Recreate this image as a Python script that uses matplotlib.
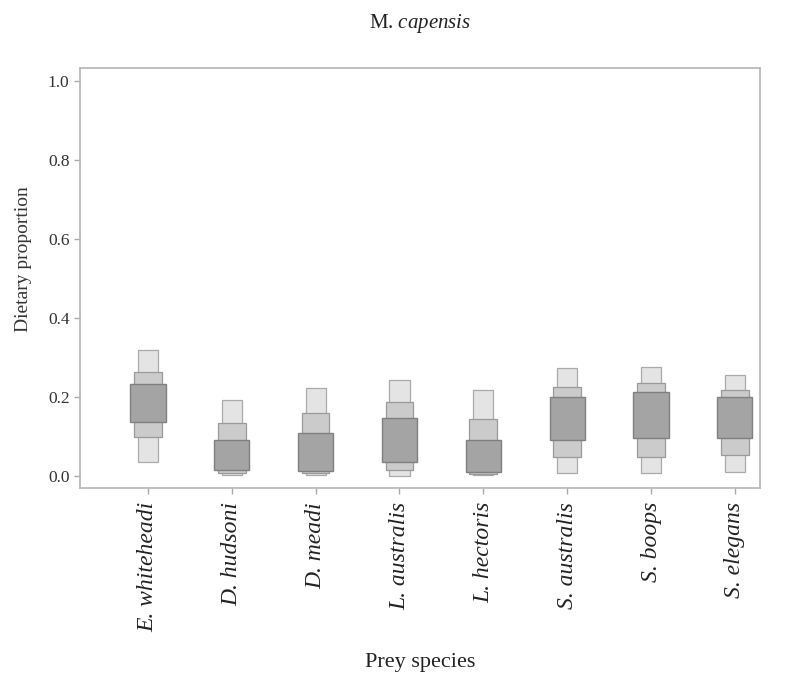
import matplotlib
matplotlib.use("Agg")
import matplotlib.pyplot as plt
import numpy as np

species = ["E. whiteheadi", "D. hudsoni", "D. meadi", "L. australis",
           "L. hectoris", "S. australis", "S. boops", "S. elegans"]

# credible intervals (low, high)
ci95_low  = [0.035, 0.002, 0.003, 0.000, 0.002, 0.008, 0.008, 0.010]
ci95_high = [0.319, 0.192, 0.223, 0.243, 0.218, 0.273, 0.276, 0.256]
ci75_low  = [0.099, 0.007, 0.007, 0.015, 0.005, 0.048, 0.048, 0.053]
ci75_high = [0.263, 0.134, 0.160, 0.187, 0.144, 0.225, 0.235, 0.218]
ci50_low  = [0.137, 0.015, 0.012, 0.035, 0.010, 0.091, 0.096, 0.096]
ci50_high = [0.233, 0.091, 0.109, 0.147, 0.091, 0.200, 0.213, 0.200]

yticks = [0.0, 0.2, 0.4, 0.6, 0.8, 1.0]
ytick_labels = ["0.0", "0.2", "0.4", "0.6", "0.8", "1.0"]

plt.rcParams['font.family'] = ['Liberation Serif', 'DejaVu Serif']
plt.rcParams['mathtext.fontset'] = 'custom'
plt.rcParams['mathtext.it'] = 'Liberation Serif:italic'
plt.rcParams['mathtext.rm'] = 'Liberation Serif'

fig = plt.figure(figsize=(7.95, 6.79), dpi=100)
ax = fig.add_axes([0.1006, 0.2813, 0.8554, 0.6186])

x = np.arange(len(species))
lo95, hi95 = np.array(ci95_low), np.array(ci95_high)
lo75, hi75 = np.array(ci75_low), np.array(ci75_high)
lo50, hi50 = np.array(ci50_low), np.array(ci50_high)

ax.bar(x, hi95 - lo95, bottom=lo95, width=0.24, color='#e4e4e4',
       edgecolor='#aaaaaa', linewidth=0.9, zorder=2)
ax.bar(x, hi75 - lo75, bottom=lo75, width=0.33, color='#cbcbcb',
       edgecolor='#9a9a9a', linewidth=0.9, zorder=3)
ax.bar(x, hi50 - lo50, bottom=lo50, width=0.42, color='#a4a4a4',
       edgecolor='#808080', linewidth=1.0, zorder=4)

ax.set_xlim(-0.81, 7.3)
ax.set_ylim(-0.03, 1.033)
ax.set_yticks(yticks)
ax.set_yticklabels(ytick_labels, fontsize=12.5, color='#333333')
ax.set_xticks(x)
ax.set_xticklabels(species, rotation=90, fontsize=17, fontstyle='italic',
                   color='#222222')

for sp in ax.spines.values():
    sp.set_color('#b5b5b5')
    sp.set_linewidth(1.2)
ax.tick_params(axis='both', colors='#aaaaaa', length=4, width=1)
ax.tick_params(axis='x', pad=6)
for lab in ax.get_yticklabels():
    lab.set_color('#333333')
for lab in ax.get_xticklabels():
    lab.set_color('#222222')

ax.set_ylabel("Dietary proportion", fontsize=14, color='#333333')
ax.yaxis.set_label_coords(-0.07, 0.545)
ax.set_xlabel("Prey species", fontsize=16, color='#222222', labelpad=15)

fig.text(0.528, 0.965, r"M. $\mathit{capensis}$", ha='center', va='center',
         fontsize=15, color='#222222')

fig.savefig("out.png", dpi=100)
